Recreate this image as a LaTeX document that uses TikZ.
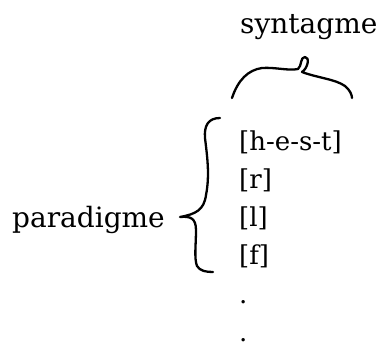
\documentclass[tikz,border=0pt]{standalone}
\usepackage{fontspec}
\setmainfont{DejaVu Serif}
\usetikzlibrary{positioning}
\tikzset{%
  every label/.style={
    font=\fontsize{28}{32}\selectfont,
    inner sep=0pt
  },
  every item/.style={
    font=\fontsize{26}{30}\selectfont,
    inner sep=0pt,
    anchor=base west
  },
  hand brace/.style={
    line width=2.3pt,
    line cap=round,
    line join=round
  },
}
\begin{document}
\begin{tikzpicture}[x=1pt, y=-1pt]

\useasboundingbox (0,0) rectangle (381,346);

\node [every label, anchor=base west] (syntagme) at (240,33) {syntagme};
\node [every label, anchor=base west] (paradigme) at (12,227) {paradigme};

\foreach \m [count=\y] in {{[h-e-s-t]},{[r]},{[l]},{[f]},{.},{.}}
  \node [every item] (item-\y) at (239,112+\y*38.2) {\m};

% top brace, drawn by hand
\draw [hand brace] (232,98) .. controls (238,80) and (248,70) .. (262,68)
  .. controls (275,67) and (288,71) .. (298,69)
  .. controls (302,66) and (300,57) .. (305,57)
  .. controls (310,57) and (308,68) .. (302,72)
  .. controls (318,78) and (335,79) .. (345,86)
  .. controls (350,90) and (352,95) .. (352,98);

% left brace
\draw [hand brace] (220,118) .. controls (208,118) and (204,126) .. (205,138)
  .. controls (207,155) and (210,175) .. (206,195)
  .. controls (204,210) and (196,214) .. (180,217)
  .. controls (190,216) and (196,218) .. (196,230)
  .. controls (196,245) and (194,258) .. (197,266)
  .. controls (200,271) and (206,272) .. (213,272);

\end{tikzpicture}
\end{document}
